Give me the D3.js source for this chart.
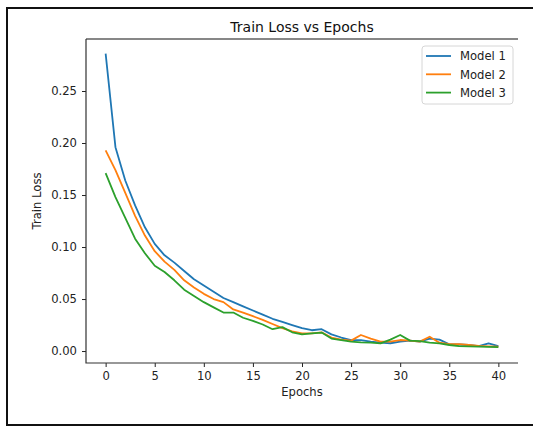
<!DOCTYPE html>
<html>
<head>
<meta charset="utf-8">
<script src="https://cdn.jsdelivr.net/npm/d3@7"></script>
<style>
	body { margin: 0; background: #fff; overflow: hidden; }
	svg { display: block; font-family: "DejaVu Sans", sans-serif; }
</style>
</head>
<body>
<script>
/* Train loss per epoch */
var epochs = d3.range(0, 41);
var model1 = [0.286, 0.196, 0.164, 0.140, 0.119, 0.103, 0.092, 0.085, 0.077, 0.069,
	0.063, 0.057, 0.051, 0.047, 0.043, 0.039, 0.035, 0.031, 0.028, 0.025,
	0.022, 0.020, 0.021, 0.016, 0.013, 0.0105, 0.0105, 0.009, 0.008, 0.0075,
	0.009, 0.010, 0.009, 0.012, 0.011, 0.0065, 0.0063, 0.0058, 0.0048, 0.0074, 0.0048];
var model2 = [0.193, 0.174, 0.152, 0.130, 0.111, 0.096, 0.086, 0.078, 0.068, 0.061,
	0.055, 0.050, 0.047, 0.040, 0.037, 0.0335, 0.030, 0.026, 0.022, 0.019,
	0.017, 0.017, 0.018, 0.013, 0.011, 0.010, 0.0154, 0.012, 0.009, 0.009,
	0.0106, 0.010, 0.009, 0.0138, 0.008, 0.0067, 0.0067, 0.0058, 0.005, 0.0045, 0.0042];
var model3 = [0.171, 0.148, 0.128, 0.108, 0.094, 0.082, 0.076, 0.068, 0.059, 0.053,
	0.047, 0.042, 0.037, 0.037, 0.032, 0.029, 0.0255, 0.021, 0.023, 0.018,
	0.016, 0.017, 0.0178, 0.012, 0.0105, 0.009, 0.0083, 0.008, 0.0074, 0.011,
	0.0154, 0.010, 0.0096, 0.008, 0.0074, 0.0058, 0.0048, 0.0045, 0.0042, 0.0040, 0.0038];
var seriesNames = ["Model 1", "Model 2", "Model 3"];
var seriesColors = ["#1f77b4", "#ff7f0e", "#2ca02c"];
var xTicks = [0, 5, 10, 15, 20, 25, 30, 35, 40];
var yTicks = [0.00, 0.05, 0.10, 0.15, 0.20, 0.25];

var W = 533, H = 426;
var box = {left: 86, right: 518, top: 39, bottom: 363};

var svg = d3.select('body').append('svg').attr('width', W).attr('height', H);

// outer frame of the screenshot: left, top and bottom edges only
svg.append('path')
	.attr('d', 'M' + W + ',8H7V425H' + W)
	.style('fill', 'none').style('stroke', '#111').style('stroke-width', 2);

var x = d3.scaleLinear().domain([-2, 42]).range([box.left, box.right]);
var y = d3.scaleLinear().domain([-0.0115, 0.3]).range([box.bottom, box.top]);

var series = [model1, model2, model3].map(function(vals, i){
	return {name: seriesNames[i], color: seriesColors[i],
		values: vals.map(function(v, j){ return {e: epochs[j], v: v}; })};
});

var line = d3.line()
	.x(function(d){ return x(d.e); })
	.y(function(d){ return y(d.v); });

svg.append('g').classed('lines', true)
	.selectAll('path')
	.data(series)
	.enter()
	.append('path')
	.attr('d', function(d){ return line(d.values); })
	.style('fill', 'none')
	.style('stroke', function(d){ return d.color; })
	.style('stroke-width', 1.8)
	.style('stroke-linejoin', 'round');

/* Axes */
var xAxis = svg.append('g')
	.attr('transform', 'translate(0,' + box.bottom + ')')
	.call(d3.axisBottom(x).tickValues(xTicks).tickSize(4).tickPadding(5).tickFormat(d3.format('d')));
var yAxis = svg.append('g')
	.attr('transform', 'translate(' + box.left + ',0)')
	.call(d3.axisLeft(y).tickValues(yTicks).tickSize(4).tickPadding(5).tickFormat(d3.format('.2f')));

[xAxis, yAxis].forEach(function(ax){
	ax.select('.domain').remove();
	ax.selectAll('text').style('font-size', '11.6px').style('fill', '#222').style('font-family', '"DejaVu Sans", sans-serif');
	ax.selectAll('line').style('stroke', '#222');
});

// spines: top, left, bottom (no right spine in the picture)
svg.append('path')
	.attr('d', 'M' + box.left + ',' + box.top + 'H' + box.right)
	.style('stroke', '#111').style('stroke-width', 1.2);
svg.append('path')
	.attr('d', 'M' + box.left + ',' + box.top + 'V' + box.bottom + 'H' + box.right)
	.style('fill', 'none').style('stroke', '#333').style('stroke-width', 1.2);

/* Labels */
var cx = (box.left + box.right) / 2;
svg.append('text')
	.attr('x', cx).attr('y', 32)
	.attr('text-anchor', 'middle')
	.style('font-size', '14px').style('fill', '#111')
	.text('Train Loss vs Epochs');
svg.append('text')
	.attr('x', cx).attr('y', 396)
	.attr('text-anchor', 'middle')
	.style('font-size', '11.6px').style('fill', '#222')
	.text('Epochs');
svg.append('text')
	.attr('transform', 'translate(41,201) rotate(-90)')
	.attr('text-anchor', 'middle')
	.style('font-size', '11.6px').style('fill', '#222')
	.text('Train Loss');

/* Legend */
var legend = svg.append('g').attr('transform', 'translate(422,46)');
legend.append('rect')
	.attr('width', 91).attr('height', 58)
	.attr('rx', 3)
	.style('fill', '#fff').style('fill-opacity', 0.8)
	.style('stroke', '#d6d6d6');
var item = legend.selectAll('g.item')
	.data(series)
	.enter()
	.append('g')
	.classed('item', true)
	.attr('transform', function(d, i){ return 'translate(0,' + (10 + 18.3 * i) + ')'; });
item.append('line')
	.attr('x1', 4).attr('x2', 29)
	.style('stroke', function(d){ return d.color; })
	.style('stroke-width', 1.8);
item.append('text')
	.attr('x', 38).attr('y', 4.2)
	.style('font-size', '11.6px').style('fill', '#222')
	.text(function(d){ return d.name; });
</script>
</body>
</html>
